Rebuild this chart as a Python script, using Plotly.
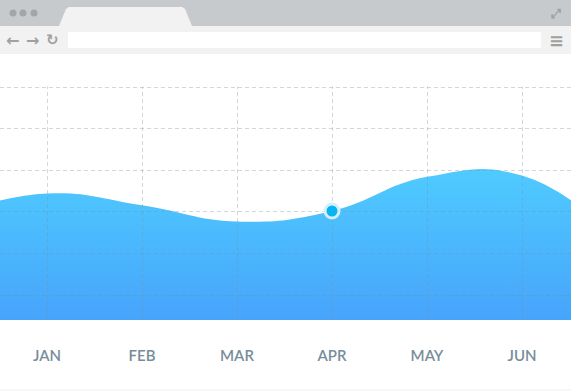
import plotly.graph_objects as go

# ---- data ----
months = ["JAN", "FEB", "MAR", "APR", "MAY", "JUN"]
# neighbouring months (DEC before, JUL after) run off the visible edges
prev_value = 25.2
month_values = [30.4, 27.6, 23.7, 26.2, 34.4, 34.7]
next_value = 19.5
highlight_month = "APR"

W, H = 571, 392

xs = list(range(-1, len(months) + 1))
ys = [prev_value] + month_values + [next_value]
hi = months.index(highlight_month)


def px(x):
    return x / W


def py(y):
    return 1 - y / H


K = 233.5 / 56.12  # pixels per unit
ydom = [py(320), py(86.5)]
yrange_ = [0, 56.12]
ydom_g = [py(320), py(78)]
yrange_g = [0, (320 - 78) / K]
xrange_ = [-47 / 95, (W - 47) / 95]

fig = go.Figure()

fig.add_trace(go.Scatter(
    x=xs, y=ys, mode="lines", fill="tozeroy",
    line=dict(width=0, shape="spline", smoothing=1.3, color="#4FC8FF"),
    fillgradient=dict(type="vertical",
                      colorscale=[[0, "#47A4FB"], [1, "#4FCBFF"]]),
    hoverinfo="skip", showlegend=False, xaxis="x", yaxis="y",
))

fig.add_trace(go.Scatter(
    x=[hi], y=[month_values[hi]], mode="markers",
    marker=dict(size=14, color="#08B4F4", line=dict(width=3, color="#D6EFFC")),
    hoverinfo="skip", showlegend=False, xaxis="x2", yaxis="y2",
))

grid_col = "rgba(120,144,156,0.35)"

fig.update_layout(
    width=W, height=H,
    margin=dict(l=0, r=0, t=0, b=0),
    paper_bgcolor="white",
    plot_bgcolor="rgba(0,0,0,0)",
    xaxis=dict(domain=[0, 1], range=xrange_, showgrid=False, zeroline=False,
               tickvals=list(range(len(months))), ticktext=months, ticks="",
               ticklabelstandoff=25,
               tickfont=dict(family="Lato", size=15, color="#778D9A", weight=600),
               anchor="y", fixedrange=True),
    yaxis=dict(domain=ydom, range=yrange_, anchor="x", showgrid=False,
               zeroline=False, showticklabels=False, fixedrange=True),
    # grid layer drawn above the area
    xaxis2=dict(domain=[0, 1], range=xrange_, anchor="y2",
                showgrid=True, gridcolor=grid_col, griddash="4px,3px",
                gridwidth=1, zeroline=False,
                tickvals=list(range(len(months))), showticklabels=False,
                fixedrange=True),
    yaxis2=dict(domain=ydom_g, range=yrange_g, anchor="x2",
                showgrid=True, gridcolor=grid_col, griddash="4px,3px",
                gridwidth=1, zeroline=False, tick0=6, dtick=10,
                showticklabels=False, fixedrange=True),
)

# ---- browser chrome decoration ----
shapes = []


def rect(x0, y0, x1, y1, color, layer="below"):
    shapes.append(dict(type="rect", xref="paper", yref="paper",
                       x0=px(x0), x1=px(x1), y0=py(y1), y1=py(y0),
                       fillcolor=color, line=dict(width=0), layer=layer))


rect(0, 0, W, 26, "#C7CACD")
rect(0, 26, W, 54, "#F2F2F2")
tab = [(59, 26), (66, 9), (69, 7), (182, 7), (185, 9), (192, 26)]
path = "M " + " L ".join(f"{px(a):.5f},{py(b):.5f}" for a, b in tab) + " Z"
shapes.append(dict(type="path", xref="paper", yref="paper", path=path,
                   fillcolor="#F2F2F2", line=dict(width=0), layer="below"))
for cx in (13, 23, 34):
    shapes.append(dict(type="circle", xref="paper", yref="paper",
                       x0=px(cx - 3.5), x1=px(cx + 3.5), y0=py(13 + 3.5), y1=py(13 - 3.5),
                       fillcolor="#A3A5A8", line=dict(width=0), layer="below"))
rect(68, 32, 541, 48, "#FFFFFF")
# page margin above the grid: masks the grid's top overhang
rect(0, 54, W, 86.4, "#FFFFFF", layer="above")
shapes.append(dict(type="line", xref="paper", yref="paper",
                   x0=0, x1=1, y0=py(390), y1=py(390),
                   line=dict(color="#EEEEEE", width=1)))
fig.update_layout(shapes=shapes)

for sym, x, y, sz in (("←", 12, 40, 16), ("→", 32, 40, 16), ("↻", 53, 40, 15),
                      ("≡", 556, 40, 18), ("⤢", 556, 13, 13)):
    fig.add_annotation(x=px(x), y=py(y), xref="paper", yref="paper",
                       text=f"<b>{sym}</b>", showarrow=False,
                       xanchor="center", yanchor="middle",
                       font=dict(family="DejaVu Sans", size=sz, color="#A0A0A0"))

fig.write_html("out.html",
               config={"displayModeBar": False, "staticPlot": True},
               post_script="document.body.style.margin='0';"
                           "document.body.style.overflow='hidden';")
